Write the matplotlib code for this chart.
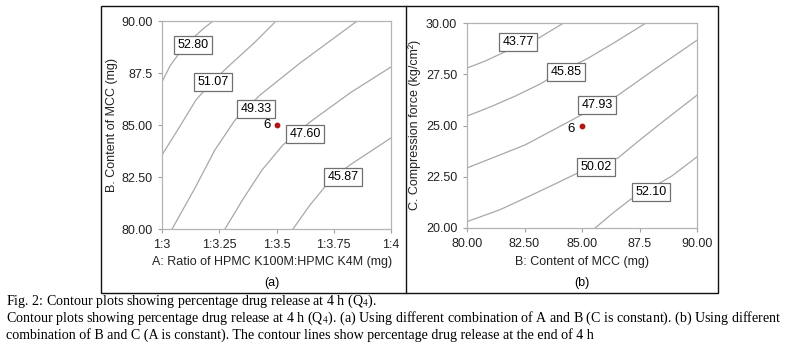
import matplotlib
matplotlib.use('Agg')
import matplotlib.pyplot as plt
from matplotlib.patches import Rectangle
from matplotlib.lines import Line2D

plt.rcParams['font.family'] = ['Liberation Sans', 'DejaVu Sans']
plt.rcParams['mathtext.fontset'] = 'stix'

# ---- panel (a): A (ratio) vs B (MCC), contour points
a_levels = ['52.80', '51.07', '49.33', '47.60', '45.87']
a_x = [
    [3.000, 3.035, 3.079, 3.131, 3.179, 3.223],
    [3.000, 3.079, 3.148, 3.218, 3.306, 3.402, 3.498],
    [3.044, 3.144, 3.231, 3.319, 3.428, 3.603, 3.852],
    [3.275, 3.354, 3.437, 3.528, 3.646, 3.821, 4.000],
    [3.572, 3.646, 3.721, 3.770, 3.821, 4.000],
]
a_y = [
    [87.07, 87.84, 88.51, 89.13, 89.62, 90.00],
    [83.56, 84.95, 86.20, 87.07, 87.98, 88.94, 90.00],
    [80.00, 81.97, 83.80, 85.24, 86.44, 87.98, 90.00],
    [80.00, 81.44, 82.84, 84.04, 85.14, 86.54, 87.79],
    [80.00, 81.15, 82.16, 82.65, 83.08, 84.38],
]
a_lab_x = [3.135, 3.223, 3.410, 3.624, 3.790]
a_lab_y = [88.85, 87.07, 85.77, 84.57, 82.50]
a_xticks = [3.0, 3.25, 3.5, 3.75, 4.0]
a_xticklabels = ['1:3', '1:3.25', '1:3.5', '1:3.75', '1:4']
a_yticks = [80.0, 82.5, 85.0, 87.5, 90.0]
a_yticklabels = ['80.00', '82.50', '85.00', '87.5', '90.00']
a_point = (3.5, 85.0)

# ---- panel (b): B (MCC) vs C (compression force)
b_levels = ['43.77', '45.85', '47.93', '50.02', '52.10']
b_x = [
    [80.00, 80.78, 81.43, 82.30, 83.17, 84.20],
    [80.00, 81.00, 82.09, 83.17, 84.04, 85.26, 86.43, 87.78],
    [80.00, 81.22, 82.52, 83.83, 85.13, 86.57, 88.17, 90.00],
    [80.00, 81.43, 82.74, 83.83, 84.83, 86.57, 87.52, 88.61, 90.00],
    [85.57, 86.30, 87.09, 87.96, 88.91, 90.00],
]
b_y = [
    [27.80, 28.14, 28.48, 28.92, 29.30, 30.00],
    [25.46, 25.90, 26.43, 27.02, 27.60, 28.28, 29.06, 30.00],
    [22.93, 23.47, 24.05, 24.83, 25.61, 26.48, 27.75, 29.16],
    [20.31, 20.89, 21.57, 22.15, 22.69, 23.42, 24.30, 25.27, 26.48],
    [20.00, 20.69, 21.38, 21.91, 22.54, 23.47],
]
b_lab_x = [82.22, 84.30, 85.65, 85.61, 88.00]
b_lab_y = [29.06, 27.60, 26.00, 22.98, 21.77]
b_xticks = [80.0, 82.5, 85.0, 87.5, 90.0]
b_xticklabels = ['80.00', '82.50', '85.00', '87.5', '90.00']
b_yticks = [20.0, 22.5, 25.0, 27.5, 30.0]
b_yticklabels = ['20.00', '22.50', '25.00', '27.50', '30.00']
b_point = (85.0, 25.0)

W, H = 797, 351
fig = plt.figure(figsize=(W / 100, H / 100), dpi=100)


def px_rect(l, t, r, b):
    return [l / W, 1 - b / H, (r - l) / W, (b - t) / H]


def contour_panel(ax, xs, ys, levels, lx, ly, pt, xlim, ylim,
                  xticks, xtl, yticks, ytl):
    for x, y in zip(xs, ys):
        ax.plot(x, y, color='#a8a8a8', lw=0.9, zorder=1,
                solid_joinstyle='round')
    for s, x, y in zip(levels, lx, ly):
        ax.text(x, y, s, fontsize=9, ha='center', va='center', zorder=3,
                bbox=dict(boxstyle='square,pad=0.25', fc='white',
                          ec='#707070', lw=0.9))
    ax.plot(pt[0], pt[1], 'o', color='#b01818', ms=3.2, zorder=4)
    ax.set_xlim(*xlim)
    ax.set_ylim(*ylim)
    ax.set_xticks(xticks)
    ax.set_xticklabels(xtl)
    ax.set_yticks(yticks)
    ax.set_yticklabels(ytl)
    ax.tick_params(labelsize=9, length=3, width=0.8, color='#a0a0a0',
                   pad=4, labelcolor='#222222')
    for sp in ax.spines.values():
        sp.set_color('#b4b4b4')
        sp.set_linewidth(0.9)


ax1 = fig.add_axes(px_rect(162, 21, 391, 229))
contour_panel(ax1, a_x, a_y, a_levels, a_lab_x, a_lab_y, a_point,
              (3.0, 4.0), (80.0, 90.0), a_xticks, a_xticklabels,
              a_yticks, a_yticklabels)
ax1.text(a_point[0] - 0.025, a_point[1], '6', fontsize=9.5,
         ha='right', va='center')

ax2 = fig.add_axes(px_rect(467, 23, 697, 228))
contour_panel(ax2, b_x, b_y, b_levels, b_lab_x, b_lab_y, b_point,
              (80.0, 90.0), (20.0, 30.0), b_xticks, b_xticklabels,
              b_yticks, b_yticklabels)
ax2.text(b_point[0] - 0.3, b_point[1] - 0.15, '6', fontsize=9.5,
         ha='right', va='center')

# axis titles placed by pixel
fig.text(272 / W, 1 - 262 / H, 'A: Ratio of HPMC K100M:HPMC K4M (mg)',
         fontsize=9, ha='center', va='center', color='#222222')
fig.text(272 / W, 1 - 283 / H, '(a)', fontsize=9, ha='center', va='center')
fig.text(112 / W, 1 - 125 / H, 'B. Content of MCC (mg)', fontsize=9,
         rotation=90, ha='center', va='center', color='#222222')
fig.text(582 / W, 1 - 262 / H, 'B: Content of MCC (mg)',
         fontsize=9, ha='center', va='center', color='#222222')
fig.text(582 / W, 1 - 283 / H, '(b)', fontsize=9, ha='center', va='center')
fig.text(415 / W, 1 - 125 / H, 'C. Compression force (kg/cm²)', fontsize=9,
         rotation=90, ha='center', va='center', color='#222222')

# outer frame and divider
fig.patches.append(Rectangle((101 / W, 1 - 293 / H), 617 / W, 287 / H,
                             transform=fig.transFigure, fill=False,
                             ec='#111111', lw=1.0))
fig.lines.append(Line2D([406 / W, 406 / W], [1 - 293 / H, 1 - 6 / H],
                        transform=fig.transFigure, color='#111111', lw=1.0))

# caption
cap = dict(fontsize=10.1, family='Liberation Serif', ha='left', va='center',
           color='black')
fig.text(6 / W, 1 - 301 / H,
         'Fig. 2: Contour plots showing percentage drug release at 4 h (Q$_4$).',
         **cap)
fig.text(6 / W, 1 - 318 / H,
         'Contour plots showing percentage drug release at 4 h (Q$_4$). '
         '(a) Using different combination of A and B (C is constant). '
         '(b) Using different', **cap)
fig.text(6 / W, 1 - 335 / H,
         'combination of B and C (A is constant). The contour lines show '
         'percentage drug release at the end of 4 h', **cap)

fig.savefig('out.png', dpi=100)
